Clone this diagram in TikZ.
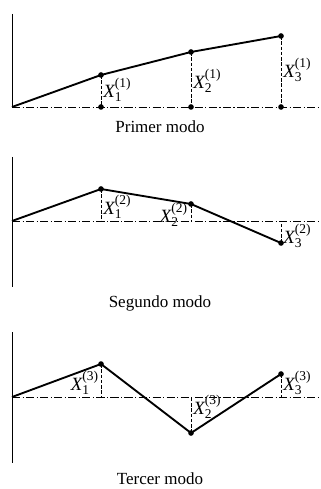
\documentclass[tikz,border=0pt]{standalone}
\usepackage{fontspec}
\setmainfont{Liberation Serif}
\usetikzlibrary{positioning}
\newcommand{\Xm}[2]{$\mbox{\itshape X}^{\mbox{\fontsize{11.5}{12}\selectfont(#2)}}_{\mbox{\fontsize{11.5}{12}\selectfont #1}}$}

\tikzset{
  eje/.style={line width=0.6pt},
  base/.style={line width=0.4pt, dash pattern=on 7pt off 2pt on 1pt off 2pt},
  guia/.style={line width=0.4pt, dash pattern=on 3pt off 1.5pt},
  modo/.style={line width=1.6pt, line join=round},
  etq/.style={font=\fontsize{16}{18}\selectfont, inner sep=1pt},
  titulo/.style={font=\fontsize{14.5}{16}\selectfont}
}

\begin{document}
\begin{tikzpicture}[x=0.03cm, y=-0.03cm]
    \useasboundingbox (0,0) rectangle (321,489);
    % primer modo
    \coordinate (o1) at (12,107);
    \coordinate (e1) at (321,107);
    \coordinate (t1) at (12,14);
    \coordinate (p11) at (101,75);
    \coordinate (p12) at (191,52);
    \coordinate (p13) at (281,36);
    \coordinate (b11) at (101,107);
    \coordinate (b12) at (191,107);
    \coordinate (b13) at (281,107);
    \draw[eje] (t1) -- (o1);
    \draw[base] (o1) -- (e1);
    \draw[guia] (p11) -- (b11);
    \draw[guia] (p12) -- (b12);
    \draw[guia] (p13) -- (b13);
    \draw[modo] (o1) -- (p11) -- (p12) -- (p13);
    \foreach \p in {p11,p12,p13,b11,b12,b13} \fill (\p) circle (2.4pt);
    \node[etq, anchor=west] (x11) at (102,90) {\Xm{1}{1}};
    \node[etq, anchor=west] (x12) at (192,81) {\Xm{2}{1}};
    \node[etq, anchor=west] (x13) at (282,70) {\Xm{3}{1}};
    \node[titulo] (n1) at (160,127) {Primer modo};

    % segundo modo
    \coordinate (o2) at (12,221);
    \coordinate (e2) at (321,221);
    \coordinate (t2) at (12,157);
    \coordinate (d2) at (12,287);
    \coordinate (p21) at (101,189);
    \coordinate (p22) at (191,204);
    \coordinate (p23) at (281,243);
    \coordinate (b21) at (101,221);
    \coordinate (b22) at (191,221);
    \coordinate (b23) at (281,221);
    \draw[eje] (t2) -- (d2);
    \draw[base] (o2) -- (e2);
    \draw[guia] (p21) -- (b21);
    \draw[guia] (p22) -- (b22);
    \draw[guia] (p23) -- (b23);
    \draw[modo] (o2) -- (p21) -- (p22) -- (p23);
    \foreach \p in {p21,p22,p23} \fill (\p) circle (2.4pt);
    \node[etq, anchor=west] (x21) at (102,207) {\Xm{1}{2}};
    \node[etq, anchor=east] (x22) at (189,215) {\Xm{2}{2}};
    \node[etq, anchor=west] (x23) at (282,236) {\Xm{3}{2}};
    \node[titulo] (n2) at (160,303) {Segundo modo};

    % tercer modo
    \coordinate (o3) at (12,397);
    \coordinate (e3) at (321,397);
    \coordinate (t3) at (12,332);
    \coordinate (d3) at (12,463);
    \coordinate (p31) at (101,364);
    \coordinate (p32) at (191,433);
    \coordinate (p33) at (281,374);
    \coordinate (b31) at (101,397);
    \coordinate (b32) at (191,397);
    \coordinate (b33) at (281,397);
    \draw[eje] (t3) -- (d3);
    \draw[base] (o3) -- (e3);
    \draw[guia] (p31) -- (b31);
    \draw[guia] (p32) -- (b32);
    \draw[guia] (p33) -- (b33);
    \draw[modo] (o3) -- (p31) -- (p32) -- (p33);
    \foreach \p in {p31,p32,p33} \fill (\p) circle (2.4pt);
    \node[etq, anchor=east] (x31) at (100,383) {\Xm{1}{3}};
    \node[etq, anchor=west] (x32) at (192,407) {\Xm{2}{3}};
    \node[etq, anchor=west] (x33) at (282,383) {\Xm{3}{3}};
    \node[titulo] (n3) at (160,479) {Tercer modo};
  \end{tikzpicture}
\end{document}
